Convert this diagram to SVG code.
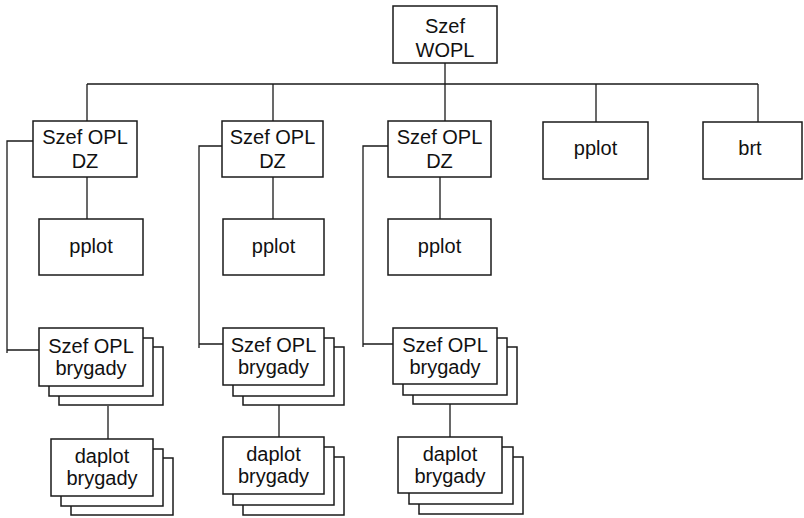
<svg xmlns="http://www.w3.org/2000/svg" width="804" height="518" viewBox="0 0 804 518">
<style>
.box{fill:#fff;stroke:#1a1a1a;stroke-width:1.5}
.ln{fill:none;stroke:#1a1a1a;stroke-width:1.3}
text{font-family:"Liberation Sans",Arial,sans-serif;font-size:20px;fill:#111;text-anchor:middle}
</style>
<rect width="804" height="518" fill="#fff"/>
<g id="connectors" class="ln">
<path d="M445 63V84M87 84H758M87 84V121M273 84V121M445 84V121M596 84V122M758 84V122"/>
<path d="M87 177V219M273 177V219M440 177V219"/>
<path d="M33 141H7V353M7 350H39"/>
<path d="M222 146H199V348M199 344H223"/>
<path d="M388 146H363V347M363 344H393"/>
<path d="M108 406V439M279 405V437M450 404V437"/>
</g>
<g id="n-wopl"><rect class="box" x="393" y="6" width="104" height="57"/><text x="445" y="33">Szef</text><text x="445" y="57">WOPL</text></g>
<g id="n-dz1"><rect class="box" x="33" y="121" width="104" height="56"/><text x="85" y="144">Szef OPL</text><text x="85" y="168">DZ</text></g>
<g id="n-dz2"><rect class="box" x="222" y="121" width="101" height="56"/><text x="272.5" y="144">Szef OPL</text><text x="272.5" y="168">DZ</text></g>
<g id="n-dz3"><rect class="box" x="388" y="121" width="103" height="56"/><text x="439.5" y="144">Szef OPL</text><text x="439.5" y="168">DZ</text></g>
<g id="n-pplot0"><rect class="box" x="543" y="122" width="105" height="57"/><text x="595.5" y="155">pplot</text></g>
<g id="n-brt"><rect class="box" x="703" y="122" width="99" height="57"/><text x="750" y="155">brt</text></g>
<g id="n-pplot1"><rect class="box" x="39" y="219" width="104" height="56"/><text x="91" y="253">pplot</text></g>
<g id="n-pplot2"><rect class="box" x="223" y="219" width="101" height="56"/><text x="273.5" y="253">pplot</text></g>
<g id="n-pplot3"><rect class="box" x="388" y="219" width="103" height="56"/><text x="439.5" y="253">pplot</text></g>
<g id="n-bryg1">
<rect class="box" x="59" y="347" width="104" height="58"/><rect class="box" x="49" y="338" width="104" height="58"/><rect class="box" x="39" y="328" width="104" height="58"/>
<text x="91" y="353">Szef OPL</text><text x="91" y="375">brygady</text></g>
<g id="n-daplot1">
<rect class="box" x="71" y="458" width="102" height="57"/><rect class="box" x="61" y="449" width="102" height="57"/><rect class="box" x="51" y="439" width="102" height="57"/>
<text x="102" y="463">daplot</text><text x="102" y="485">brygady</text></g>
<g id="n-bryg2">
<rect class="box" x="243" y="347" width="101" height="58"/><rect class="box" x="233" y="338" width="101" height="58"/><rect class="box" x="223" y="328" width="101" height="57"/>
<text x="273.5" y="352">Szef OPL</text><text x="273.5" y="374">brygady</text></g>
<g id="n-daplot2">
<rect class="box" x="243" y="457" width="101" height="58"/><rect class="box" x="233" y="447" width="101" height="58"/><rect class="box" x="223" y="437" width="101" height="57"/>
<text x="273.5" y="461">daplot</text><text x="273.5" y="483">brygady</text></g>
<g id="n-bryg3">
<rect class="box" x="413" y="347" width="104" height="57"/><rect class="box" x="403" y="338" width="104" height="57"/><rect class="box" x="393" y="328" width="104" height="56"/>
<text x="445" y="352">Szef OPL</text><text x="445" y="374">brygady</text></g>
<g id="n-daplot3">
<rect class="box" x="419" y="457" width="104" height="57"/><rect class="box" x="409" y="447" width="104" height="57"/><rect class="box" x="398" y="437" width="104" height="56"/>
<text x="450" y="461">daplot</text><text x="450" y="483">brygady</text></g>
</svg>
